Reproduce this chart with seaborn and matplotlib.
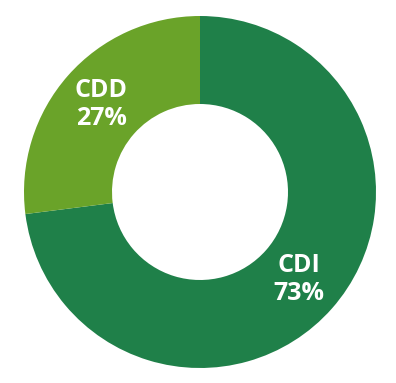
import matplotlib
matplotlib.use("Agg")
import matplotlib.pyplot as plt
import seaborn as sns

# data
labels = ["CDI", "CDD"]
values = [73, 27]
colors = ["#1f8049", "#6aa329"]

sns.set_theme(style="white")
plt.rcParams["font.family"] = ["Open Sans", "DejaVu Sans"]

fig = plt.figure(figsize=(3.96, 3.83), dpi=100)
ax = fig.add_axes([0, 0, 1, 1])

r = 176.0
wedges, texts, autotexts = ax.pie(
    values,
    colors=colors,
    startangle=90,
    counterclock=False,
    radius=1,
    wedgeprops=dict(width=0.5, edgecolor="none"),
    autopct=lambda p: "",
    pctdistance=0.75,
)

for t, lab, v in zip(autotexts, labels, values):
    t.set_text(f"{lab}\n{v}%")
    t.set_color("white")
    t.set_fontsize(18)
    t.set_fontweight("bold")
    t.set_linespacing(1.15)

ax.set_aspect("equal")
ax.set_xlim(-200 / r, 196 / r)
ax.set_ylim(-191 / r, 192 / r)
ax.axis("off")

fig.savefig("out.png", dpi=100)
